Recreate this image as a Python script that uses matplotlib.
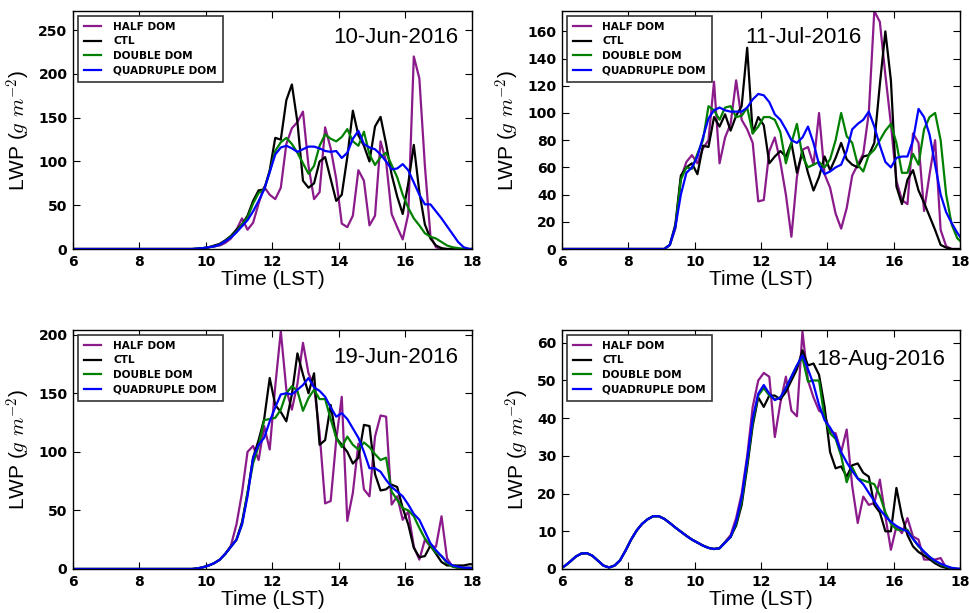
import numpy as np
import matplotlib
matplotlib.use('Agg')
import matplotlib.pyplot as plt

plt.rcParams['mathtext.fontset'] = 'cm'

labels = ['HALF DOM', 'CTL', 'DOUBLE DOM', 'QUADRUPLE DOM']
colors = ['#8b1a8b', 'black', 'green', 'blue']

# 10-min output, stamped at hh:05, hh:15, ... ; first point pins the curve to 6 LST
t_jun10 = np.r_[6.0, np.arange(9 + 7/12, 18.1, 1/6)]
t_jul11 = np.r_[6.0, np.arange(9 + 1/12, 18.1, 1/6)]
t_jun19 = np.r_[6.0, np.arange(9 + 7/12, 18.1, 1/6)]
t_aug18 = np.arange(5 + 11/12, 18.1, 1/6)

# ---- 10-Jun-2016
jun10_half = [0,
    0, 0, 1,
    2, 3, 4, 7, 12, 22,
    35, 22, 30, 52, 71, 62,
    57, 70, 120, 138, 145, 157,
    95, 57, 65, 139, 115, 80,
    29, 25, 38, 90, 78, 27,
    38, 123, 100, 40, 25, 11,
    40, 220, 195, 95, 15, 2,
    0, 0, 0, 0, 0, 0,
    0]
jun10_ctl = [0,
    0, 0.5, 1,
    2, 4, 6, 10, 15, 22,
    28, 38, 55, 67, 68, 90,
    127, 125, 170, 188, 145, 78,
    70, 75, 100, 105, 80, 55,
    62, 105, 158, 130, 118, 100,
    140, 151, 120, 85, 60, 40,
    75, 119, 65, 28, 12, 4,
    1, 0, 0, 0, 0, 0,
    0]
jun10_double = [0,
    0, 0.5, 1,
    2, 3, 5, 9, 14, 20,
    28, 36, 52, 64, 68, 88,
    112, 122, 127, 120, 110, 98,
    86, 95, 118, 131, 126, 123,
    128, 137, 123, 118, 134, 108,
    96, 105, 110, 96, 82, 62,
    47, 35, 27, 18, 14, 12,
    8, 4, 2, 1, 0, 0,
    0]
jun10_quad = [0,
    0, 0.5, 1,
    2, 3, 5, 9, 13, 19,
    26, 33, 43, 55, 68, 88,
    108, 116, 118, 115, 111, 114,
    117, 117, 115, 112, 111, 112,
    104, 110, 126, 135, 120, 116,
    114, 108, 100, 91, 92, 97,
    90, 76, 62, 51, 51, 43,
    35, 26, 17, 8, 2, 0,
    0]

# ---- 11-Jul-2016
jul11_half = [0,
    0, 3, 15, 52, 64, 69,
    63, 74, 80, 123, 63, 82,
    92, 124, 95, 88, 78, 35,
    36, 72, 82, 64, 40, 9,
    53, 73, 75, 62, 100, 55,
    45, 26, 15, 30, 54, 62,
    70, 100, 175, 167, 128, 92,
    50, 36, 33, 85, 78, 28,
    55, 80, 14, 2, 0, 0,
    0]
jul11_ctl = [0,
    0, 3, 18, 54, 60, 63,
    55, 76, 75, 97, 90, 99,
    87, 98, 105, 148, 85, 97,
    91, 63, 68, 72, 68, 78,
    56, 72, 56, 43, 53, 68,
    58, 67, 78, 66, 62, 60,
    68, 69, 78, 121, 160, 124,
    46, 33, 51, 58, 43, 34,
    24, 14, 3, 1, 0, 0,
    0]
jul11_double = [0,
    0, 3, 16, 51, 60, 59,
    70, 80, 105, 102, 95, 104,
    105, 97, 98, 104, 85, 90,
    97, 97, 95, 86, 63, 78,
    92, 68, 60, 62, 64, 60,
    66, 80, 100, 83, 78, 62,
    57, 69, 73, 80, 87, 92,
    78, 56, 56, 70, 62, 88,
    97, 100, 80, 40, 18, 8,
    4]
jul11_quad = [0,
    0, 3, 16, 40, 56, 60,
    68, 82, 96, 102, 104, 102,
    101, 101, 101, 104, 110, 114,
    113, 108, 99, 95, 88, 80,
    78, 82, 90, 78, 62, 55,
    57, 60, 62, 72, 88, 92,
    95, 101, 90, 76, 64, 60,
    67, 68, 68, 80, 103, 97,
    84, 62, 40, 27, 19, 12,
    6]

# ---- 19-Jun-2016
jun19_half = [0,
    0, 0.5, 1.5,
    3, 5, 8, 13, 20, 38,
    65, 100, 105, 93, 122, 102,
    156, 203, 153, 136, 158, 193,
    167, 156, 116, 56, 58, 110,
    147, 41, 65, 107, 68, 62,
    113, 131, 130, 55, 62, 42,
    49, 19, 8, 25, 19, 19,
    45, 9, 2, 1, 1, 1,
    1]
jun19_ctl = [0,
    0, 0.5, 1.5,
    3, 5, 8, 13, 19, 25,
    40, 65, 95, 110, 128, 163,
    140, 134, 126, 149, 184, 166,
    150, 167, 106, 110, 140, 112,
    106, 100, 90, 95, 123, 122,
    81, 67, 68, 72, 70, 52,
    38, 18, 10, 11, 20, 13,
    6, 3, 3, 3, 3, 4,
    4]
jun19_double = [0,
    0, 0.5, 1.5,
    3, 5, 8, 13, 19, 25,
    38, 65, 90, 105, 127, 128,
    129, 136, 150, 156, 152, 135,
    146, 153, 145, 145, 128, 112,
    104, 113, 106, 102, 108, 104,
    98, 93, 95, 66, 59, 52,
    50, 45, 35, 26, 20, 14,
    11, 5, 2, 1, 1, 1,
    1]
jun19_quad = [0,
    0, 0.5, 1.5,
    3, 5, 8, 13, 19, 25,
    38, 62, 95, 106, 112, 126,
    138, 149, 150, 149, 153, 157,
    163, 155, 152, 147, 138, 130,
    133, 128, 120, 112, 100, 86,
    86, 83, 76, 70, 66, 62,
    55, 47, 42, 32, 22, 16,
    11, 6, 3, 2, 1, 1,
    0]

# ---- 18-Aug-2016 (morning part is the same in all runs)
aug18_morning = [0, 0.8, 2.0, 3.3, 4.1, 4.2,
    3.5, 2.2, 0.9, 0.4, 0.9, 2.3,
    4.9, 7.8, 10.2, 12.0, 13.2, 14.0,
    14.0, 13.3, 12.2, 11.0, 9.9, 8.8,
    7.8, 7.0, 6.2, 5.6, 5.3, 5.5]
aug18_half = aug18_morning + [7.2,
    9, 13.5, 20, 30, 43, 50,
    52, 51, 35, 44, 51, 42,
    40.5, 63, 50, 45.5, 42, 41,
    36.4, 36, 31, 37, 22, 12.2,
    19.2, 17, 17.5, 23.7, 14, 5.1,
    11.3, 9.5, 13.5, 8.6, 7.8, 2.5,
    2.5, 2.5, 2.9, 0.3, 0, 0,
    0]
aug18_ctl = aug18_morning + [7,
    8.5, 11.5, 17, 27, 38, 45.5,
    43, 46, 46, 45, 47, 50,
    53, 58, 54, 54.5, 51.5, 43,
    31, 26.7, 27.2, 24.5, 27.5, 28,
    25.5, 24.5, 17, 15, 10, 10,
    21.5, 14, 9, 6, 4.5, 3.6,
    2.6, 1.5, 0.7, 0.3, 0.1, 0,
    0]
aug18_double = aug18_morning + [7,
    8.5, 12, 18, 28, 39, 46,
    48, 46, 45, 45.5, 48, 51,
    54, 56, 49.7, 50, 50, 40,
    36, 34.5, 30, 23, 27, 24,
    23.5, 23, 22.5, 19.5, 15, 12,
    10.5, 10.3, 10.4, 8, 6, 4.5,
    3.2, 2, 1.2, 0.6, 0.2, 0,
    0]
aug18_quad = aug18_morning + [7,
    8.5, 12.5, 19, 29, 40, 46.5,
    48.8, 46.5, 44.8, 45.5, 48, 51,
    54, 56.7, 53, 49, 43.5, 39.5,
    37.5, 35, 31, 28.3, 26, 24,
    22.5, 20.2, 18, 15.8, 14, 12.5,
    11.4, 10.6, 10, 8, 6.2, 4.6,
    3.2, 2.2, 1.4, 0.8, 0.3, 0.1,
    0]

panels = [
    ('10-Jun-2016', t_jun10, [jun10_half, jun10_ctl, jun10_double, jun10_quad]),
    ('11-Jul-2016', t_jul11, [jul11_half, jul11_ctl, jul11_double, jul11_quad]),
    ('19-Jun-2016', t_jun19, [jun19_half, jun19_ctl, jun19_double, jun19_quad]),
    ('18-Aug-2016', t_aug18, [aug18_half, aug18_ctl, aug18_double, aug18_quad]),
]

# axes boxes (fig fraction) and per-panel cosmetics
rects = [[0.0753, 0.5938, 0.4118, 0.3883],
         [0.5800, 0.5938, 0.4107, 0.3883],
         [0.0753, 0.0718, 0.4118, 0.3899],
         [0.5800, 0.0718, 0.4107, 0.3899]]
ylims = [272, 175, 204, 63.4]
ysteps = [50, 20, 50, 10]
date_pos = [(0.965, 0.866, 'right'), (0.607, 0.866, 'center'),
            (0.965, 0.862, 'right'), (0.962, 0.854, 'right')]


fig = plt.figure(figsize=(9.69, 6.13), dpi=100, facecolor='white')

for i, (date, t, series) in enumerate(panels):
    ax = fig.add_axes(rects[i])
    for vals, lab, col in zip(series, labels, colors):
        ax.plot(t, vals, '-', color=col, lw=1.6, label=lab)

    ax.set_xlim(6, 18)
    ax.set_ylim(0, ylims[i])
    ax.set_xticks(np.arange(6, 19, 2))
    ax.set_yticks(np.arange(0, ylims[i], ysteps[i]))
    ax.tick_params(direction='in', top=True, right=True, length=5, width=0.8,
                   labelsize=10, pad=4)
    for lbl in ax.get_xticklabels() + ax.get_yticklabels():
        lbl.set_fontweight('bold')
    for sp in ax.spines.values():
        sp.set_linewidth(1.0)

    ax.set_xlabel('Time (LST)', fontsize=15, family='Liberation Sans', labelpad=1)
    ax.set_ylabel(r'LWP ($g\ m^{-2}$)', fontsize=15, family='Liberation Sans', labelpad=4)

    x, y, ha = date_pos[i]
    ax.text(x, y, date, transform=ax.transAxes, ha=ha, va='baseline',
            fontsize=16, family='Liberation Sans')

    leg = ax.legend(loc='upper left', prop={'size': 7.6, 'weight': 'bold'},
                    fancybox=False, framealpha=1, edgecolor='#333333',
                    handlelength=1.7, handletextpad=1.1, labelspacing=0.45,
                    borderpad=0.55, borderaxespad=0.45)
    leg.get_frame().set_linewidth(1.2)

plt.savefig('out.png', dpi=100)
